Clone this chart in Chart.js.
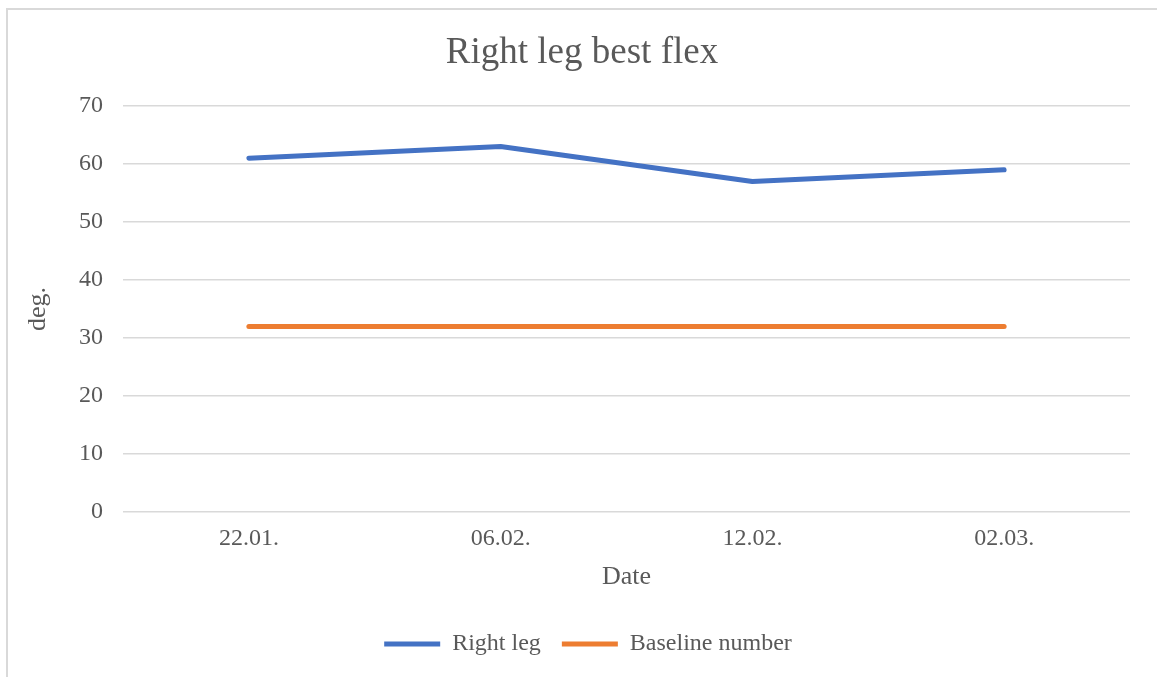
<!DOCTYPE html>
<html>
<head>
<meta charset="utf-8">
<script src="https://cdn.jsdelivr.net/npm/chart.js@4.4.1/dist/chart.umd.min.js"></script>
<style>
  html, body { margin: 0; padding: 0; background: #ffffff; }
  #wrap { width: 1157px; height: 677px; position: relative; }
</style>
</head>
<body>
<div id="wrap"><canvas id="chart" width="1157" height="677"></canvas></div>
<script>
// Measurement dates and flex angles (degrees)
const categories = ['22.01.', '06.02.', '12.02.', '02.03.'];
const rightLeg = [61, 63, 57, 59];
const baseline = [32, 32, 32, 32];
const yTicks = [0, 10, 20, 30, 40, 50, 60, 70];

const TEXT = '#595959';
const GRID = '#d9d9d9';
const SERIF = '"Liberation Serif", "Times New Roman", serif';

// Thin frame around the whole chart
const framePlugin = {
  id: 'frame',
  beforeDraw(chart) {
    const ctx = chart.ctx;
    ctx.save();
    ctx.strokeStyle = GRID;
    ctx.lineWidth = 2;
    ctx.strokeRect(7, 9, chart.width + 20, chart.height + 20);
    ctx.restore();
  }
};

// Centre the title and legend on the canvas rather than on the padded box
const blockShift = {
  id: 'blockShift',
  afterLayout(chart) {
    const lg = chart.legend;
    if (lg) { lg.left += 19; lg.right += 19; }
    const tb = chart.titleBlock;
    if (tb) { tb.left += 13; tb.right += 13; }
  }
};

new Chart(document.getElementById('chart'), {
  type: 'line',
  data: {
    labels: categories,
    datasets: [
      {
        label: 'Right leg',
        data: rightLeg,
        borderColor: '#4472C4',
        backgroundColor: '#4472C4',
        borderWidth: 5,
        borderCapStyle: 'round',
        borderJoinStyle: 'round',
        pointRadius: 0,
        tension: 0,
        fill: false
      },
      {
        label: 'Baseline number',
        data: baseline,
        borderColor: '#ED7D31',
        backgroundColor: '#ED7D31',
        borderWidth: 5,
        borderCapStyle: 'round',
        borderJoinStyle: 'round',
        pointRadius: 0,
        tension: 0,
        fill: false
      }
    ]
  },
  options: {
    responsive: false,
    animation: false,
    devicePixelRatio: 1,
    layout: { padding: { left: 8, right: 27, top: 0, bottom: 11 } },
    plugins: {
      title: {
        display: true,
        text: 'Right leg best flex',
        color: TEXT,
        font: { family: SERIF, size: 37, weight: 'normal', lineHeight: 1.2 },
        padding: { top: 30.8, bottom: 30.8 }
      },
      legend: {
        display: true,
        position: 'bottom',
        labels: {
          color: TEXT,
          font: { family: SERIF, size: 24 },
          usePointStyle: true,
          pointStyle: 'line',
          pointStyleWidth: 56,
          padding: 21
        }
      },
      tooltip: { enabled: false }
    },
    scales: {
      x: {
        offset: true,
        grid: { display: false, drawTicks: false },
        border: { display: false },
        ticks: {
          color: TEXT,
          font: { family: SERIF, size: 24 },
          padding: 12.6,
          maxRotation: 0
        },
        title: {
          display: true,
          text: 'Date',
          color: TEXT,
          font: { family: SERIF, size: 26 },
          padding: { top: 0, bottom: 18.4 }
        },
        afterFit(scale) { scale.height = 99; }
      },
      y: {
        min: 0,
        max: 70,
        afterBuildTicks(scale) { scale.ticks = yTicks.map(v => ({ value: v })); },
        grid: { color: GRID, lineWidth: 1.5, drawTicks: false },
        border: { display: false },
        ticks: {
          color: TEXT,
          font: { family: SERIF, size: 24 },
          padding: 20
        },
        title: {
          display: true,
          text: 'deg.',
          color: TEXT,
          font: { family: SERIF, size: 26 },
          padding: { top: 14.4, bottom: 0 }
        },
        afterFit(scale) { scale.width = 115; }
      }
    }
  },
  plugins: [framePlugin, blockShift]
});
</script>
</body>
</html>
